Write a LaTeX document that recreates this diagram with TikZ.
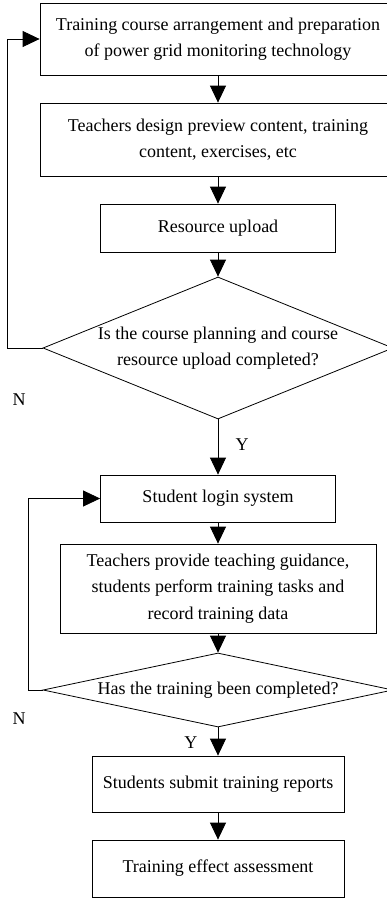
\documentclass[tikz,border=0pt]{standalone}
\usepackage{fontspec}
\setmainfont{Liberation Serif}
\usepackage{tikz}
\usetikzlibrary{arrows.meta,shapes.geometric}

\begin{document}
\begin{tikzpicture}[
        x=1pt,y=-1pt,
        every node/.style={font=\fontsize{18}{26.5}\selectfont},
        proc/.style={draw,line width=0.8pt,align=center,inner sep=0pt},
        dec/.style={draw,diamond,line width=0.8pt,inner sep=0pt},
        arrow/.style={-{Triangle[length=17pt,width=16pt]},line width=0.8pt}
      ]
      \useasboundingbox (0,0) rectangle (387,899);
      % course preparation part
      \node[proc,minimum width=356pt,minimum height=72pt] (arrange) at (218,39)
        {Training course arrangement and preparation\\of power grid monitoring technology};
      \node[proc,minimum width=356pt,minimum height=73pt] (design) at (218,139.5)
        {Teachers design preview content, training\\content, exercises, etc};
      \node[proc,minimum width=235pt,minimum height=48pt] (upload) at (218,228) {Resource upload};
      \node[dec,minimum width=350pt,minimum height=142pt] (check) at (218,348) {};
      \node at (check.center) [align=center] {Is the course planning and course\\resource upload completed?};
      % training part
      \node[proc,minimum width=235pt,minimum height=47pt] (login) at (218,498.5) {Student login system};
      \node[proc,minimum width=316pt,minimum height=89pt] (guide) at (218,588.5)
        {Teachers provide teaching guidance,\\students perform training tasks and\\record training data};
      \node[dec,minimum width=350pt,minimum height=74pt] (done) at (218,690) {};
      \node at (done.center) {Has the training been completed?};
      \node[proc,minimum width=252pt,minimum height=56pt] (report) at (218,784) {Students submit training reports};
      \node[proc,minimum width=252pt,minimum height=57pt] (assess) at (218,868.5) {Training effect assessment};

      \coordinate (back1) at (7,348);
      \coordinate (back2) at (28,690);

      \draw[arrow] (arrange) -- (design);
      \draw[arrow] (design) -- (upload);
      \draw[arrow] (upload) -- (check);
      \draw[arrow] (check.south) -- (login.north) node[pos=0.45,right=14pt] {Y};
      \draw[arrow] (check.west) -- (back1) |- (arrange.west);
      \draw[arrow] (login) -- (guide);
      \draw[arrow] (guide) -- (done);
      \draw[arrow] (done.west) -- (back2) |- (login.west);
      \draw[arrow] (done.south) -- (report.north) node[pos=0.55,left=17pt] {Y};
      \draw[arrow] (report) -- (assess);

      \node (n1) at (19,400) {N};
      \node (n2) at (19,719) {N};
    \end{tikzpicture}
\end{document}
